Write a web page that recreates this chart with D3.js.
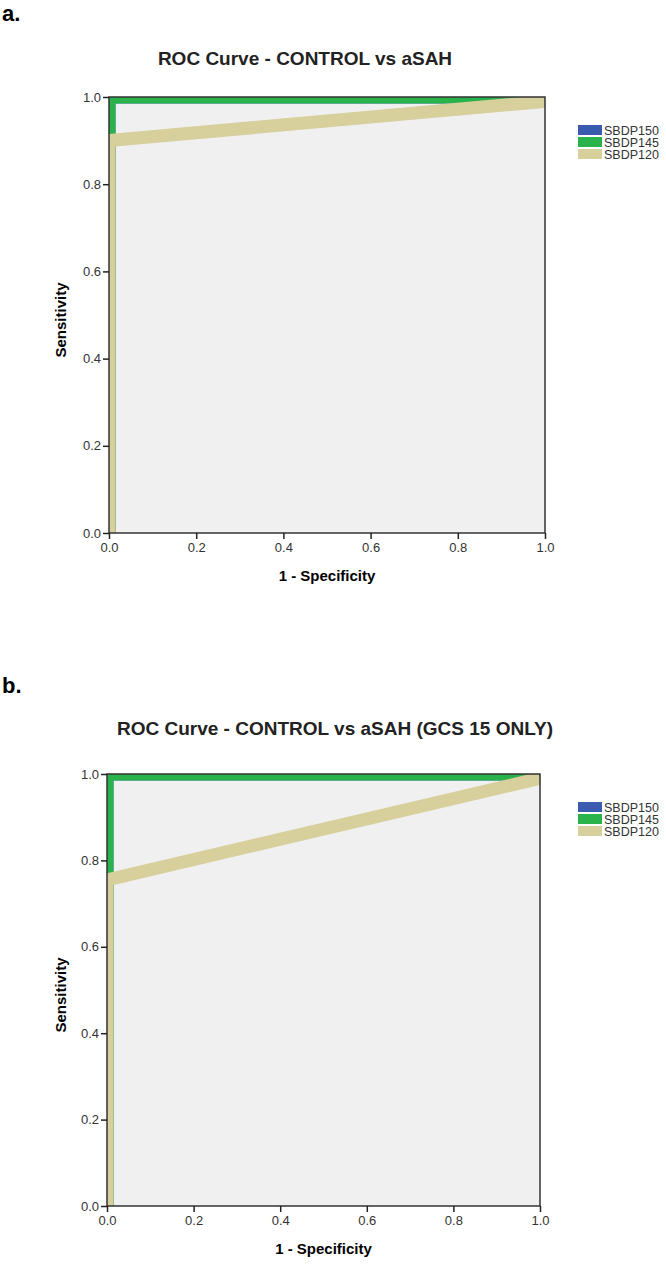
<!DOCTYPE html>
<html>
<head>
<meta charset="utf-8">
<script src="https://cdn.jsdelivr.net/npm/d3@7"></script>
<style>
  body { margin: 0; background: #fff; }
  svg { display: block; font-family: "Liberation Sans", Arial, sans-serif; }
</style>
</head>
<body>
<svg id="chart" width="666" height="1265"></svg>
<script>
// series names and colours
var seriesNames = ['SBDP150', 'SBDP145', 'SBDP120'];
var seriesColors = ['#3b5bb0', '#2bb34b', '#d7cf9c'];
var ticks = [0.0, 0.2, 0.4, 0.6, 0.8, 1.0];

// panel a: [1 - specificity, sensitivity]
var aSBDP150 = [[0, 0], [0, 1], [1, 1]];
var aSBDP145 = [[0, 0], [0, 1], [1, 1]];
var aSBDP120 = [[0, 0], [0, 0.9], [1, 0.99]];

// panel b
var bSBDP150 = [[0, 0], [0, 1], [1, 1]];
var bSBDP145 = [[0, 0], [0, 1], [1, 1]];
var bSBDP120 = [[0, 0], [0, 0.755], [1, 0.99]];

var svg = d3.select('#chart');

var panels = [
  { tag: 'a.', tagY: 21, title: 'ROC Curve - CONTROL vs aSAH', titleX: 305, titleY: 65,
    left: 109, right: 545, top: 97, bottom: 533, legendY: 125,
    series: [aSBDP150, aSBDP145, aSBDP120] },
  { tag: 'b.', tagY: 693, title: 'ROC Curve - CONTROL vs aSAH (GCS 15 ONLY)', titleX: 335, titleY: 735,
    left: 107, right: 540, top: 774, bottom: 1206, legendY: 802,
    series: [bSBDP150, bSBDP145, bSBDP120] }
];

var lineWidth = 13;

panels.forEach(function (p) {
  var x = d3.scaleLinear().domain([0, 1]).range([p.left, p.right]);
  var y = d3.scaleLinear().domain([0, 1]).range([p.bottom, p.top]);
  var g = svg.append('g');

  g.append('text')
    .attr('x', 2).attr('y', p.tagY)
    .style('font-size', '22px').style('font-weight', 'bold')
    .text(p.tag);

  g.append('text')
    .attr('x', p.titleX).attr('y', p.titleY)
    .attr('text-anchor', 'middle')
    .style('font-size', '19px').style('font-weight', 'bold').style('fill', '#222')
    .text(p.title);

  g.append('rect')
    .attr('x', p.left).attr('y', p.top)
    .attr('width', p.right - p.left).attr('height', p.bottom - p.top)
    .style('fill', '#f0f0f0');

  var clipId = 'clip' + p.tag.charAt(0);
  svg.append('clipPath').attr('id', clipId)
    .append('rect')
    .attr('x', p.left).attr('y', p.top)
    .attr('width', p.right - p.left).attr('height', p.bottom - p.top);

  var line = d3.line()
    .x(function (d) { return x(d[0]); })
    .y(function (d) { return y(d[1]); });

  p.series.forEach(function (s, i) {
    g.append('path')
      .datum(s)
      .attr('d', line)
      .attr('clip-path', 'url(#' + clipId + ')')
      .style('fill', 'none')
      .style('stroke', seriesColors[i])
      .style('stroke-width', lineWidth)
      .style('stroke-linejoin', 'miter');
  });

  // frame
  g.append('rect')
    .attr('x', p.left).attr('y', p.top)
    .attr('width', p.right - p.left).attr('height', p.bottom - p.top)
    .style('fill', 'none').style('stroke', '#333').style('stroke-width', 1.5);

  var xAxis = d3.axisBottom(x).tickValues(ticks).tickFormat(d3.format('.1f'))
    .tickSize(6).tickSizeOuter(0);
  var yAxis = d3.axisLeft(y).tickValues(ticks).tickFormat(d3.format('.1f'))
    .tickSize(6).tickSizeOuter(0);

  var gx = g.append('g').attr('transform', 'translate(0,' + p.bottom + ')').call(xAxis);
  var gy = g.append('g').attr('transform', 'translate(' + p.left + ',0)').call(yAxis);
  [gx, gy].forEach(function (ax) {
    ax.select('.domain').remove();
    ax.selectAll('line').style('stroke', '#222').style('stroke-width', 1.5);
    ax.selectAll('text').style('font-size', '13px').style('fill', '#333')
      .style('font-family', '"Liberation Sans", Arial, sans-serif');
  });
  gx.selectAll('text').attr('y', 10);
  gy.selectAll('text').attr('x', -8);

  g.append('text')
    .attr('x', (p.left + p.right) / 2).attr('y', p.bottom + 48)
    .attr('text-anchor', 'middle')
    .style('font-size', '15px').style('font-weight', 'bold')
    .text('1 - Specificity');

  g.append('text')
    .attr('transform', 'translate(66,' + ((p.top + p.bottom) / 2 + 5) + ') rotate(-90)')
    .attr('text-anchor', 'middle')
    .style('font-size', '15px').style('font-weight', 'bold')
    .text('Sensitivity');

  var legend = g.append('g').attr('transform', 'translate(578,' + p.legendY + ')');
  seriesNames.forEach(function (name, i) {
    legend.append('rect')
      .attr('x', 0).attr('y', i * 12)
      .attr('width', 24).attr('height', 10)
      .style('fill', seriesColors[i]);
    legend.append('text')
      .attr('x', 26).attr('y', i * 12 + 10)
      .style('font-size', '12.5px').style('fill', '#333')
      .text(name);
  });
});
</script>
</body>
</html>
